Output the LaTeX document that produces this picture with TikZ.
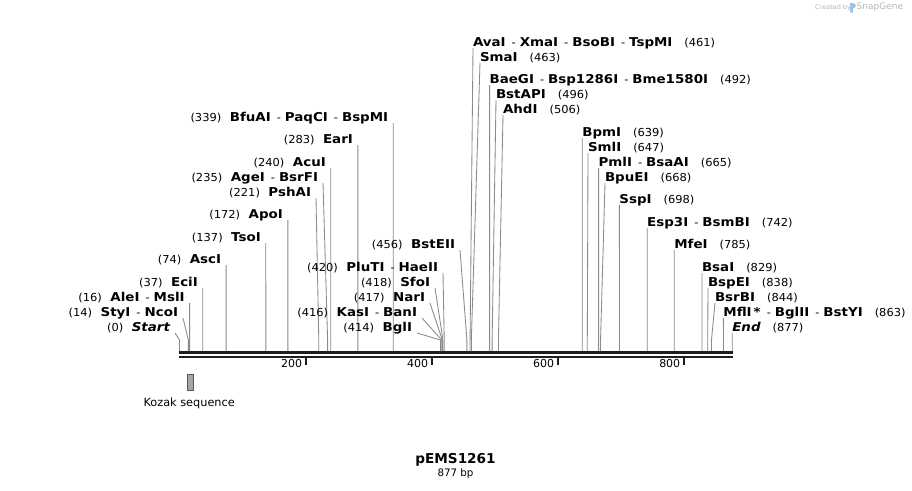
\documentclass[tikz,border=0pt]{standalone}
\usepackage{fontspec}
\setmainfont{DejaVu Sans}
\newfontfamily\enzfont{DejaVu Sans}[FakeStretch=1.1]
\newfontfamily\numfont{DejaVu Sans}[FakeStretch=1.04]
\definecolor{enzgray}{HTML}{8A8A8A}
\definecolor{barcol}{HTML}{1E1E1E}
\definecolor{kozfill}{HTML}{A3A6AD}
\definecolor{kozdraw}{HTML}{55575C}
\definecolor{logogray}{HTML}{B8B8B8}
\definecolor{logoblue}{HTML}{9CC3E6}
\newcommand{\nm}[1]{{\enzfont\bfseries #1}}
\newcommand{\ps}[1]{{\numfont\fontsize{11}{13}\selectfont(#1)}}
\newcommand{\sepd}{\hspace{6pt}{\numfont\fontsize{11}{13}\selectfont -}\hspace{4pt}}
\newcommand{\gapL}{\hspace{8.5pt}}
\newcommand{\gapR}{\hspace{12pt}}
\tikzset{
  lbl/.style={inner sep=0pt, outer sep=0pt, font=\fontsize{12.2}{14}\selectfont, text=black},
  enz/.style={draw=enzgray, line width=0.85pt},
  plain/.style={inner sep=0pt, outer sep=0pt, font=\fontsize{11}{13}\selectfont, text=black},
  tickline/.style={draw=barcol, line width=2pt},
}
% left label: id, pos, y, xend, text
\newcommand{\enzL}[5]{%
  \node[lbl,anchor=east] (#1) at (#4,#3) {#5};
  \coordinate (#1-k) at ({179.5+0.6303*#2},340);
  \coordinate (#1-b) at ({179.5+0.6303*#2},351);
  \draw[enz] ([xshift=5pt,yshift=-5pt]#1.east) -- (#1-k) -- (#1-b);
}
% right label: id, pos, y, xstart, text
\newcommand{\enzR}[5]{%
  \node[lbl,anchor=west] (#1) at (#4,#3) {#5};
  \coordinate (#1-k) at ({179.5+0.6303*#2},340);
  \coordinate (#1-b) at ({179.5+0.6303*#2},351);
  \draw[enz] ([yshift=-5pt]#1.west) -- (#1-k) -- (#1-b);
}
\begin{document}
\begin{tikzpicture}[x=1pt,y=-1pt]
\useasboundingbox[fill=white] (0,0) rectangle (912,490);

% sequence bar
\coordinate (bA0) at (179,352.5);
\coordinate (bA1) at (733,352.5);
\coordinate (bB0) at (179,356.8);
\coordinate (bB1) at (733,356.8);
\draw[barcol,line width=3pt] (bA0) -- (bA1);
\draw[barcol,line width=2.4pt] (bB0) -- (bB1);

% ticks
\foreach \v/\n in {200/t2,400/t4,600/t6,800/t8}{
  \coordinate (\n) at ({179.5+0.6303*\v},358);
  \coordinate (\n e) at ({179.5+0.6303*\v},365);
  \draw[tickline] (\n) -- (\n e);
  \node[plain,anchor=east] (\n l) at ({179.5+0.6303*\v-3.5},363) {\v};
}

% left-hand enzymes
\enzL{start}{0}{328}{170}{\ps{0}\gapL\nm{\itshape Start}}
\enzL{styi}{14}{313}{178}{\ps{14}\gapL\nm{StyI}\sepd\nm{NcoI}}
\enzL{alei}{16}{298}{184.6}{\ps{16}\gapL\nm{AleI}\sepd\nm{MslI}}
\enzL{ecii}{37}{283}{197.8}{\ps{37}\gapL\nm{EciI}}
\enzL{asci}{74}{260}{221.1}{\ps{74}\gapL\nm{AscI}}
\enzL{tsoi}{137}{238}{260.8}{\ps{137}\gapL\nm{TsoI}}
\enzL{apoi}{172}{215}{282.9}{\ps{172}\gapL\nm{ApoI}}
\enzL{pshai}{221}{193}{311}{\ps{221}\gapL\nm{PshAI}}
\enzL{agei}{235}{178}{318}{\ps{235}\gapL\nm{AgeI}\sepd\nm{BsrFI}}
\enzL{acui}{240}{163}{325.8}{\ps{240}\gapL\nm{AcuI}}
\enzL{eari}{283}{140}{352.9}{\ps{283}\gapL\nm{EarI}}
\enzL{bfuai}{339}{118}{388.2}{\ps{339}\gapL\nm{BfuAI}\sepd\nm{PaqCI}\sepd\nm{BspMI}}
\enzL{bgli}{414}{328}{412}{\ps{414}\gapL\nm{BglI}}
\enzL{kasi}{416}{313}{417}{\ps{416}\gapL\nm{KasI}\sepd\nm{BanI}}
\enzL{nari}{417}{298}{425}{\ps{417}\gapL\nm{NarI}}
\enzL{sfoi}{418}{283}{430}{\ps{418}\gapL\nm{SfoI}}
\enzL{pluti}{420}{268}{438}{\ps{420}\gapL\nm{PluTI}\sepd\nm{HaeII}}
\enzL{bsteii}{456}{245}{455}{\ps{456}\gapL\nm{BstEII}}

% right-hand enzymes
\enzR{avai}{461}{43}{473}{\nm{AvaI}\sepd\nm{XmaI}\sepd\nm{BsoBI}\sepd\nm{TspMI}\gapR\ps{461}}
\enzR{smai}{463}{58}{480}{\nm{SmaI}\gapR\ps{463}}
\enzR{baegi}{492}{80}{489.6}{\nm{BaeGI}\sepd\nm{Bsp1286I}\sepd\nm{Bme1580I}\gapR\ps{492}}
\enzR{bstapi}{496}{95}{496}{\nm{BstAPI}\gapR\ps{496}}
\enzR{ahdi}{506}{110}{503}{\nm{AhdI}\gapR\ps{506}}
\enzR{bpmi}{639}{133}{582.3}{\nm{BpmI}\gapR\ps{639}}
\enzR{smli}{647}{148}{588}{\nm{SmlI}\gapR\ps{647}}
\enzR{pmli}{665}{163}{598.6}{\nm{PmlI}\sepd\nm{BsaAI}\gapR\ps{665}}
\enzR{bpuei}{668}{178}{605}{\nm{BpuEI}\gapR\ps{668}}
\enzR{sspi}{698}{200}{619.4}{\nm{SspI}\gapR\ps{698}}
\enzR{esp3i}{742}{223}{647.2}{\nm{Esp3I}\sepd\nm{BsmBI}\gapR\ps{742}}
\enzR{mfei}{785}{245}{674.3}{\nm{MfeI}\gapR\ps{785}}
\enzR{bsai}{829}{268}{702}{\nm{BsaI}\gapR\ps{829}}
\enzR{bspei}{838}{283}{708}{\nm{BspEI}\gapR\ps{838}}
\enzR{bsrbi}{844}{298}{715}{\nm{BsrBI}\gapR\ps{844}}
\enzR{mfli}{863}{313}{723.4}{\nm{MflI}\,\nm{*}\sepd\nm{BglII}\sepd\nm{BstYI}\gapR\ps{863}}
\enzR{endn}{877}{328}{732.3}{\nm{\itshape End}\gapR\ps{877}}

% Kozak feature
\node[draw=kozdraw, fill=kozfill, line width=0.8pt, minimum width=6pt, minimum height=16pt, inner sep=0pt] (kozak) at (190.3,382.3) {};
\node[plain,font=\fontsize{11.3}{13}\selectfont] (kozaklbl) at (189.2,403.5) {Kozak sequence};

% title
\node[lbl,font=\fontsize{13.6}{16}\selectfont\bfseries] (title) at (455.5,459.5) {pEMS1261};
\node[plain,font=\fontsize{10.3}{12}\selectfont] (len) at (455.5,474) {877 bp};

% watermark
\node[inner sep=0pt,anchor=west,text=logogray,font=\fontsize{6.5}{8}\selectfont] (cby) at (815,7.5) {Created by};
\fill[logoblue] (850,3) rectangle (853,12.5) (853,3) -- (855.5,4.5) -- (855.5,7) -- (853,8.5) -- cycle;
\node[inner sep=0pt,anchor=west,text=logogray,font=\fontsize{9}{10}\selectfont] (sg) at (856.5,7.5) {SnapGene};
\end{tikzpicture}
\end{document}
